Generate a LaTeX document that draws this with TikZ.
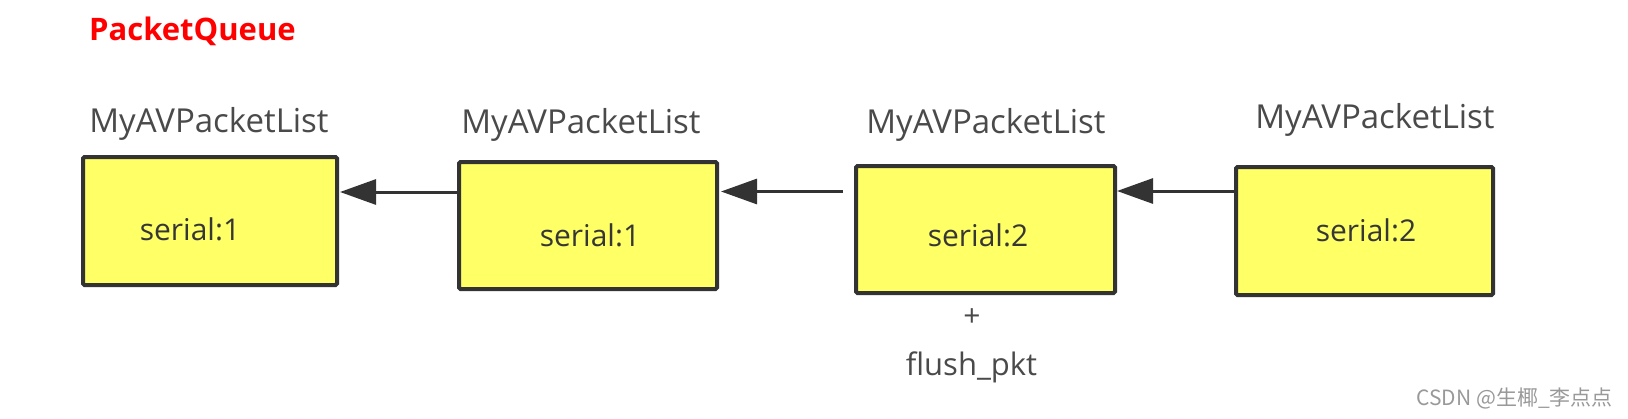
\documentclass[tikz,border=0pt]{standalone}
\usepackage{fontspec}
\setmainfont{Open Sans}
\newfontfamily\cjkfont{Noto Sans CJK SC}
\usetikzlibrary{arrows.meta}
\definecolor{boxyellow}{HTML}{FFFF66}
\definecolor{boxline}{HTML}{333333}
\definecolor{labelgray}{HTML}{4A4A4A}
\definecolor{textdark}{HTML}{363636}
\definecolor{wmgray}{HTML}{999999}
\begin{document}
\begin{tikzpicture}[x=1pt,y=-1pt,
  pbox/.style={draw=boxline, fill=boxyellow, line width=4pt, rounded corners=1.5pt, inner sep=0pt},
  lbl/.style={text=labelgray, font=\fontsize{33}{38}\selectfont, inner sep=0pt, anchor=base},
  ser/.style={text=textdark, font=\fontsize{30}{35}\selectfont, inner sep=0pt, anchor=base},
  arr/.style={draw=boxline, line width=3pt, -{Triangle[length=36pt,width=25pt]}}]
\useasboundingbox (0,0) rectangle (1628,418);
% title
\node[text=red, font=\bfseries\fontsize{31}{35}\selectfont, inner sep=0pt, anchor=base west] (title) at (89,40) {PacketQueue};
% boxes
\node[pbox, minimum width=254pt, minimum height=128pt] (b1) at (210,221) {};
\node[pbox, minimum width=258pt, minimum height=127pt] (b2) at (588,225.5) {};
\node[pbox, minimum width=259pt, minimum height=127pt] (b3) at (985.5,229.5) {};
\node[pbox, minimum width=257pt, minimum height=128pt] (b4) at (1364.5,231) {};
% labels above
\node[lbl] (l1) at (209,132) {MyAVPacketList};
\node[lbl] (l2) at (581,133) {MyAVPacketList};
\node[lbl] (l3) at (986,133) {MyAVPacketList};
\node[lbl] (l4) at (1375,128) {MyAVPacketList};
% serial texts
\node[ser] (s1) at (190,240) {serial:1};
\node[ser] (s2) at (590,246) {serial:1};
\node[ser] (s3) at (978,246) {serial:2};
\node[ser] (s4) at (1366,241) {serial:2};
% below box 3
\node[text=labelgray, font=\fontsize{30}{34}\selectfont, inner sep=0pt] (plus) at (972,318) {+};
\node[lbl, font=\fontsize{31}{36}\selectfont] (flush) at (971.5,375) {flush\_pkt};
% connectors
\coordinate (y1) at (0,192);
\coordinate (y2) at (0,191.5);
\coordinate (y3) at (0,191);
\coordinate (f2) at (843,191.5);
\draw[arr] (b2.west |- y1) -- ([xshift=1pt]b1.east |- y1);
\draw[arr] (f2) -- ([xshift=2pt]b2.east |- y2);
\draw[arr] (b4.west |- y3) -- (b3.east |- y3);
% watermark
\node[text=wmgray, font=\cjkfont\fontsize{21}{24}\selectfont, inner sep=0pt, anchor=base east] (wm) at (1613,405) {CSDN @生椰\_李点点};
\end{tikzpicture}
\end{document}
